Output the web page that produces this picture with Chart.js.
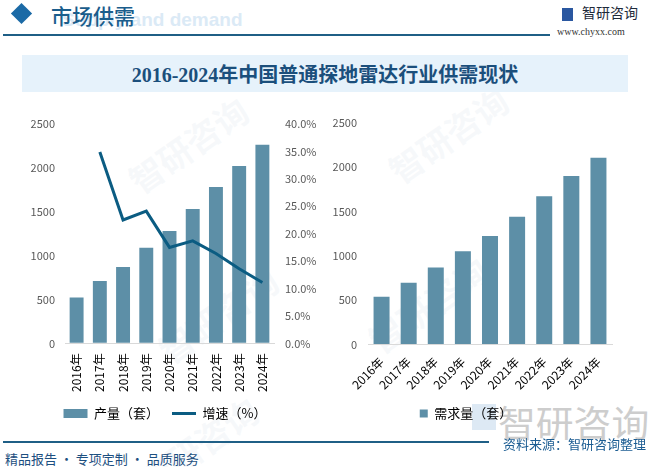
<!DOCTYPE html>
<html>
<head>
<meta charset="utf-8">
<script src="https://cdn.jsdelivr.net/npm/chart.js@4"></script>
<style>
  body { margin: 0; background: #fff; }
  #page { position: relative; width: 652px; height: 467px; overflow: hidden; background: #fff; font-family: "Noto Sans CJK SC", sans-serif; }
  .abs { position: absolute; white-space: nowrap; }
  .wm { position: absolute; color: rgba(215, 226, 236, 0.22); font-size: 34px; font-weight: bold; transform: rotate(-35deg); white-space: nowrap; }
</style>
</head>
<body>
<div id="page">
  <!-- faint watermarks -->
  <div class="wm" style="left:120px; top:120px;">智研咨询</div>
  <div class="wm" style="left:150px; top:290px;">智研咨询</div>
  <div class="wm" style="left:380px; top:110px;">智研咨询</div>
  <div class="wm" style="left:360px; top:280px;">智研咨询</div>
  <div class="wm" style="left:130px; top:420px;">智研咨询</div>
  <div class="abs" style="left:472px; top:404px; width:24px; height:26px; background:#dde9f4;"></div>
  <div class="abs" style="left:498px; top:395px; font-size:36px; color:#cdcdcd; transform:scaleX(1.05); transform-origin:left;">智研咨询</div>

  <!-- header -->
  <div class="abs" style="left:14px; top:6px; width:15px; height:15px; background:#1b6aa6; transform:rotate(45deg);"></div>
  <div class="abs" style="left:62px; top:9px; font-family:'Liberation Sans',sans-serif; font-weight:bold; font-size:19px; color:#dbeaf6;">Supply and demand</div>
  <div class="abs" style="left:51px; top:0px; font-size:21px; font-weight:500; color:#1a5d8c;">市场供需</div>
  <div class="abs" style="left:3px; top:34px; width:547px; height:2px; background:#1f5f86;"></div>
  <div class="abs" style="left:562px; top:8px; width:11px; height:13px; background:#2a57a0;"></div>
  <div class="abs" style="left:582px; top:2px; font-size:14px; color:#1e2a3a;">智研咨询</div>
  <div class="abs" style="left:557px; top:26px; font-family:'Liberation Serif',serif; font-size:10px; color:#333;">www.chyxx.com</div>

  <!-- title box -->
  <div class="abs" style="left:22px; top:55px; width:606px; height:37px; background:#e6f2fb;"></div>
  <div class="abs" style="left:22px; top:59px; width:606px; text-align:center; font-family:'Liberation Serif','Noto Sans CJK SC',serif; font-weight:bold; font-size:20px; color:#1b4f7c;">2016-2024年中国普通探地雷达行业供需现状</div>

  <!-- charts -->
  <div class="abs" style="left:0px; top:110px; width:330px; height:320px;"><canvas id="supplyChart"></canvas></div>
  <div class="abs" style="left:320px; top:110px; width:330px; height:320px;"><canvas id="demandChart"></canvas></div>

  <!-- footer -->
  <div class="abs" style="left:3px; top:441px; width:486px; height:2px; background:#1f5f86;"></div>
  <div class="abs" style="left:503px; top:434px; font-size:13px; color:#1b5c92;">资料来源：智研咨询整理</div>
  <div class="abs" style="left:5px; top:449px; font-size:13px; color:#1d4f80;">精品报告 · 专项定制 · 品质服务</div>
</div>

<script>
const years = ['2016年', '2017年', '2018年', '2019年', '2020年', '2021年', '2022年', '2023年', '2024年'];
const output = [524, 710, 870, 1090, 1280, 1531, 1782, 2021, 2264];   // 产量（套）
const growth = [null, 34.9, 22.5, 24.1, 17.5, 18.7, 16.4, 13.6, 11.1]; // 增速（%）
const demand = [538, 698, 870, 1053, 1225, 1443, 1672, 1901, 2107];   // 需求量（套）

const barColor = '#5d8fa7';
const lineColor = '#0b5c82';
const tickFont = { family: "'Noto Sans CJK SC', sans-serif", size: 11 };
const labelFont = { family: "'Noto Sans CJK SC', sans-serif", size: 12 };
const legendFont = { family: "'Noto Sans CJK SC', sans-serif", size: 13 };

// invisible tick marks give the gap between labels and plot (ticks.padding would also push the top down)
const hiddenTicks = len => ({ display: true, drawOnChartArea: false, color: 'transparent', tickLength: len });

const supplyChart = new Chart(document.getElementById('supplyChart'), {
    data: {
        labels: years,
        datasets: [
            {
                type: 'line',
                label: '增速（%）',
                data: growth,
                yAxisID: 'y1',
                borderColor: lineColor,
                backgroundColor: lineColor,
                borderWidth: 3,
                pointRadius: 0,
                pointStyle: 'line',
                tension: 0,
                order: 0
            },
            {
                type: 'bar',
                label: '产量（套）',
                data: output,
                yAxisID: 'y',
                backgroundColor: barColor,
                categoryPercentage: 1,
                barPercentage: 0.6,
                pointStyle: 'rect',
                order: 1
            }
        ]
    },
    options: {
        responsive: true,
        maintainAspectRatio: false,
        animation: false,
        layout: { padding: { top: 14, left: 0, right: 0, bottom: 0 } },
        plugins: {
            tooltip: { enabled: false },
            legend: {
                position: 'bottom',
                labels: {
                    usePointStyle: true,
                    pointStyleWidth: 24,
                    boxHeight: 9,
                    color: '#000',
                    font: legendFont,
                    padding: 13,
                    sort: (a, b) => b.datasetIndex - a.datasetIndex
                }
            }
        },
        scales: {
            x: {
                grid: { display: false },
                border: { color: '#d9d9d9' },
                ticks: { color: '#000', font: labelFont, minRotation: 90, maxRotation: 90, padding: 2 }
            },
            y: {
                position: 'left',
                min: 0,
                max: 2500,
                grid: hiddenTicks(10),
                border: { display: false },
                ticks: { stepSize: 500, color: '#595959', font: tickFont, padding: 0, callback: v => String(v) },
                afterFit: s => { s.width = 65; }
            },
            y1: {
                position: 'right',
                min: 0,
                max: 40,
                grid: hiddenTicks(11),
                border: { display: false },
                ticks: { stepSize: 5, color: '#595959', font: tickFont, padding: 0, callback: v => v.toFixed(1) + '%' },
                afterFit: s => { s.width = 56; }
            }
        }
    }
});

const demandChart = new Chart(document.getElementById('demandChart'), {
    type: 'bar',
    data: {
        labels: years,
        datasets: [{
            label: '需求量（套）',
            data: demand,
            backgroundColor: barColor,
            categoryPercentage: 1,
            barPercentage: 0.59
        }]
    },
    options: {
        responsive: true,
        maintainAspectRatio: false,
        animation: false,
        layout: { padding: { top: 13, left: 0, right: 38, bottom: 0 } },
        plugins: {
            tooltip: { enabled: false },
            legend: {
                position: 'bottom',
                labels: {
                    boxWidth: 8,
                    boxHeight: 8,
                    color: '#000',
                    font: legendFont,
                    padding: 13
                }
            }
        },
        scales: {
            x: {
                grid: { display: false },
                border: { color: '#d9d9d9' },
                ticks: { color: '#000', font: labelFont, minRotation: 45, maxRotation: 45, padding: 2 }
            },
            y: {
                min: 0,
                max: 2500,
                grid: hiddenTicks(11),
                border: { display: false },
                ticks: { stepSize: 500, color: '#595959', font: tickFont, padding: 0, callback: v => String(v) },
                afterFit: s => { s.width = 48; }
            }
        }
    }
});
</script>
</body>
</html>
